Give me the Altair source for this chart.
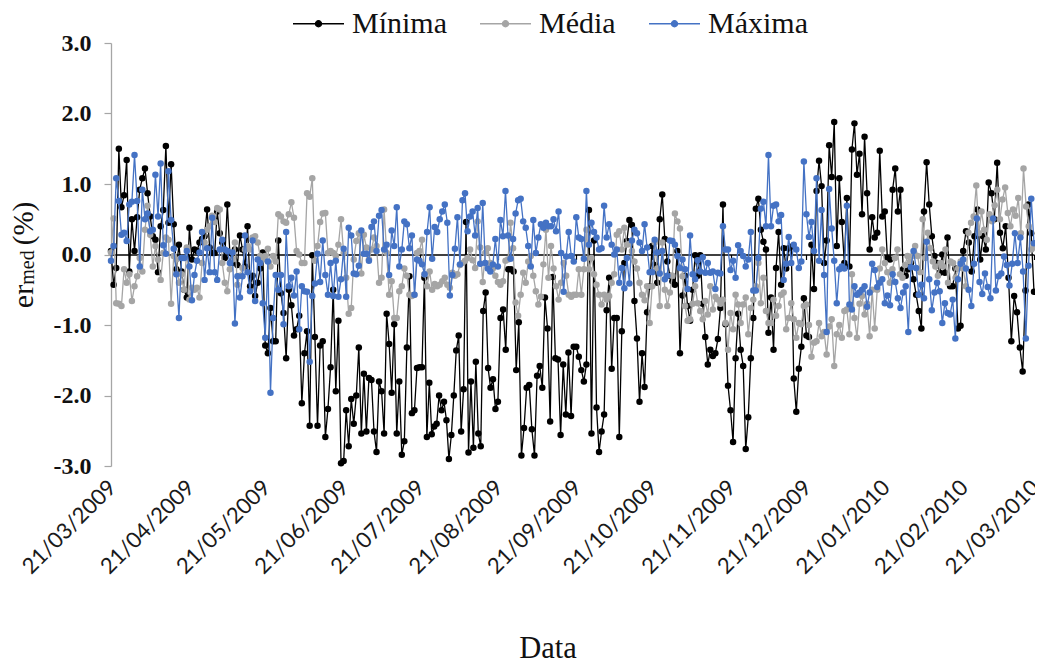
import pandas as pd
import altair as alt

tick_dates = ["2009-03-21","2009-04-21","2009-05-21","2009-06-21","2009-07-21","2009-08-21",
              "2009-09-21","2009-10-21","2009-11-21","2009-12-21","2010-01-21","2010-02-21","2010-03-21"]

minima = [
 [0.05,-0.43,-0.19,1.50,0.67,0.84,1.34,-0.24,0.50,0.05,0.53,0.92,1.08,1.22,0.87,0.54,0.26,0.21,-0.25,0.40,0.63,1.54,0.45,1.28,0.43,-0.21,0.14,-0.24,-0.50,-0.61],
 [0.38,-0.07,0.07,0.05,0.17,0.22,0.26,0.64,0.10,0.02,0.02,0.61,0.30,0.17,-0.05,0.71,0.02,-0.12,0.07,-0.15,0.27,0.07,-0.17,0.40,-0.45,-0.30,-0.59,-0.40,-0.20,0.03],
 [-1.29,-1.40,-0.76,-1.23,-1.23,0.20,-0.55,-0.83,-1.47,-0.50,-0.72,-1.15,-1.06,-0.87,-2.11,-1.40,-1.09,-2.43,-0.01,-1.17,-2.43,-1.29,-1.23,-2.59,-2.19,-1.60,-0.50,-1.94,-0.94,-2.96],
 [-2.93,-2.21,-2.72,-2.05,-2.40,-2.00,-1.32,-2.54,-1.69,-2.51,-1.75,-1.78,-2.51,-2.80,-1.80,-1.94,-2.54,-0.84,-1.27,-1.96,-0.99,-2.54,-1.80,-2.84,-2.65,-1.32,-0.31,-2.25,-2.21,-1.61],
 [-1.60,-1.60,-0.33,-2.59,-1.82,-2.55,-2.44,-2.40,-2.00,-2.21,-2.09,-2.35,-2.90,-2.56,-2.00,-1.36,-1.15,-2.51,-1.91,0.46,-2.81,-1.80,-2.74,-1.52,-2.54,-2.72,-0.80,-0.54,-1.61,-1.89,-1.77,-2.19],
 [-2.09,-0.90,-0.78,-1.35,-0.21,-0.21,-0.24,-1.64,-0.96,-2.85,-2.46,-1.89,-1.85,-2.48,-2.85,-1.72,-1.58,-1.89,-0.61,-1.05,-2.37,-0.32,-1.47,-1.49,-2.56,-1.56,-2.27,-1.39,-2.29,-1.31],
 [-1.31,-1.45,-1.64,-1.80,-1.56,0.63,-2.54,0.20,-2.17,-2.80,-2.51,-2.27,-0.79,-0.33,-1.62,-0.90,-0.90,-2.59,-1.09,-0.12,0.19,0.49,0.42,-0.66,-1.19,-2.09,-1.40,-1.88,-0.82,-0.45],
 [0.12,-0.15,-0.40,0.50,0.85,0.22,-0.10,-0.30,-0.38,-0.43,0.05,-1.40,-0.58,-0.30,-0.73,-0.94,-0.50,-0.01,-0.30,-0.01,-0.70,-1.17,-1.56,-1.35,-1.44,-1.40,-1.20,-0.76,0.71,-0.99,-1.86],
 [-2.21,-2.66,-1.47,-0.84,-1.35,-1.58,-2.76,-2.31,-1.47,-0.90,0.65,0.79,0.35,0.18,0.07,-1.11,-0.61,-1.35,-0.19,0.32,-0.43,0.09,-0.20,0.09,0.11,-1.76,-2.23,-1.62,-1.31,-0.62],
 [-1.15,-1.17,0.14,-0.49,0.90,1.33,0.97,-0.12,0.20,1.55,1.10,1.88,0.12,1.08,0.46,-0.12,0.80,-0.17,1.49,1.86,1.13,1.43,0.57,1.67,0.87,0.07,0.53,0.24,0.31,1.47,0.54],
 [0.61,-0.05,-0.07,0.92,1.22,0.61,0.92,-0.21,-0.30,-0.21,-0.12,-0.35,-0.57,-0.80,-1.05,0.61,1.31,0.71,0.26,-0.02,-0.12,-0.26,0.00,-0.26,0.24,-0.45,-0.45,-0.20,-1.05,-1.01],
 [0.05,0.33,0.17,-0.24,0.26,0.64,-0.07,0.26,0.07,1.02,0.87,0.50,1.30,0.31,0.09,0.40,-0.33,-1.23,-0.59,-0.82,-1.32,-1.66,-0.51,0.71,0.30,-0.53],
]

media = [
 [0.03,0.51,-0.69,-0.70,-0.73,-0.21,-0.40,-0.28,-0.66,-0.45,-0.31,-0.05,-0.24,0.35,0.69,0.28,-0.17,0.12,-0.07,-0.36,0.02,0.24,0.21,-0.70,-0.02,-0.07,-0.40,-0.28,-0.50,0.10],
 [-0.64,-0.47,-0.50,-0.47,-0.61,-0.12,0.17,0.35,0.40,0.55,0.46,0.66,0.64,-0.12,-0.40,-0.52,-0.21,-0.07,0.17,-0.43,-0.30,-0.19,0.07,0.12,0.07,0.24,0.26,0.17,-0.02,-0.07],
 [-0.02,0.08,-0.17,-0.02,-0.10,0.57,0.54,0.47,0.45,0.57,0.74,0.52,0.05,0.00,-0.12,-0.12,0.87,0.82,1.08,-0.09,0.12,0.46,0.58,0.59,0.02,0.05,0.02,-0.02,0.14,0.50],
 [0.02,-0.33,-0.84,-0.76,-0.07,0.19,0.30,-0.27,0.28,0.10,-0.07,0.07,0.24,0.12,-0.40,-0.33,0.64,0.02,-0.57,-0.38,-0.90,-0.90,-0.52,-0.45,-0.20,-0.30,-0.57,-0.59,-0.57,0.02],
 [0.05,0.21,-0.28,-0.45,-0.24,-0.50,-0.42,-0.45,-0.43,-0.38,-0.33,-0.43,-0.47,-0.26,-0.30,-0.28,-0.15,-0.12,-0.09,-0.05,0.07,-0.08,-0.19,0.47,0.10,-0.39,0.02,0.09,-0.12,-0.20,-0.30],
 [-0.39,-0.43,-0.38,-0.09,-0.07,0.45,0.09,-0.68,-0.87,-0.57,-0.26,-0.40,-0.10,-0.02,-0.30,-0.52,-0.71,-0.60,-0.14,0.35,-0.33,0.12,-0.20,-0.45,-0.64,-0.40,-0.12,-0.30,-0.57,-0.60,-0.57],
 [-0.57,-0.21,-0.57,-0.21,0.35,-0.21,-0.05,-0.28,-0.43,-0.57,-0.71,-0.57,-0.64,-0.59,-0.40,-0.28,0.28,0.33,0.07,0.38,0.14,0.15,0.05,-0.10,-0.20,-0.40,-0.57,-0.65,-0.45,-0.97],
 [-0.45,0.17,-0.20,-0.73,0.17,-0.50,-0.73,-0.54,-0.30,0.58,0.47,0.37,-0.31,-0.73,-0.94,-0.92,-0.70,-0.45,-0.69,-0.80,-0.92,-0.66,-0.85,-0.45,-0.78,-0.60,-0.64,-0.70,-0.64,-0.97,-1.35],
 [-0.83,-1.06,-0.57,-0.71,-0.97,-0.71,-0.61,-1.13,-0.76,-0.64,-0.45,-0.12,-0.69,-0.33,-0.80,-0.97,-0.97,-0.64,-0.87,-0.73,-0.57,-0.54,-1.06,-0.90,-0.69,-0.92,-1.18,-0.97,-0.99,-0.73],
 [-0.71,-1.00,-1.45,-1.25,-1.23,-0.97,-1.16,-1.10,-1.42,-1.02,-0.92,-1.58,-1.13,-1.00,-1.18,-0.80,-0.78,-1.13,-0.28,-0.90,-1.18,-0.70,-0.59,-0.85,-0.70,-1.16,-0.50,-1.05,-0.50,-0.20,0.07],
 [-0.12,-0.25,-0.40,-0.21,-0.05,0.07,-0.28,-0.33,-0.15,-0.02,-0.10,-0.02,0.12,-0.02,-0.25,0.50,-0.05,0.31,0.09,-0.10,-0.17,-0.30,-0.12,-0.17,0.07,-0.40,-0.10,-0.12,-0.33,-0.20,-0.10],
 [-0.20,-0.45,0.31,0.45,0.54,0.98,0.30,0.61,0.35,0.21,0.57,0.47,0.70,0.92,0.50,0.78,0.95,0.59,0.40,0.64,0.55,0.80,0.30,1.22,0.68,0.40,0.07,0.10],
]

maxima = [
 [-0.09,0.12,1.08,0.76,0.28,0.31,0.19,0.71,0.75,1.41,0.76,-0.17,0.92,0.50,0.58,0.33,0.35,1.13,0.54,1.29,0.13,0.01,1.18,0.49,0.08,-0.28,-0.90,-0.05,-0.05,0.05],
 [-0.17,-0.65,-0.29,-0.09,0.03,0.32,-0.36,0.09,-0.25,0.52,-0.25,-0.36,0.07,0.21,0.07,0.05,-0.12,0.03,-0.98,-0.31,-0.61,-0.31,0.27,-0.25,-0.52,0.20,-0.66,-0.07,-0.12,-0.69],
 [-1.18,-0.10,-1.96,-0.90,-0.29,-0.50,-0.29,-0.99,0.32,-0.45,-0.33,-0.58,-0.24,-1.06,-0.45,-0.52,-0.53,-1.52,-0.59,-0.41,0.01,-0.39,0.20,-0.29,-0.57,-0.12,-0.59,-0.09,-0.60,-0.35],
 [0.08,-0.60,0.38,0.27,-0.27,-0.28,-0.16,0.34,0.01,0.01,-0.09,0.39,0.47,0.05,0.55,0.63,0.07,0.14,-0.29,0.34,0.12,0.67,-0.17,0.07,0.47,0.43,0.09,0.27,-0.57,-0.07],
 [-0.09,-0.14,-0.28,0.32,0.67,-0.06,0.39,0.32,0.50,0.61,0.71,0.45,-0.58,-0.29,0.08,0.53,-0.14,0.77,0.87,0.33,0.54,0.61,0.27,0.66,-0.13,0.73,-0.12,-0.20,-0.24,-0.14,0.22],
 [-0.17,0.49,0.26,0.90,0.27,-0.06,0.22,0.58,0.77,0.79,0.47,0.38,0.12,-0.17,0.49,0.02,0.24,0.43,0.38,0.45,0.40,0.40,0.50,0.33,0.61,0.02,-0.53,-0.03,0.32,-0.02,-0.10],
 [0.53,0.24,0.22,-0.06,0.90,0.14,0.45,0.32,0.24,0.07,0.09,0.69,0.24,0.43,0.14,0.00,0.07,-0.40,-0.19,-0.48,-0.05,-0.41,0.20,0.35,0.30,0.17,0.05,0.43,0.10,-0.25],
 [-0.25,0.21,0.03,-0.27,0.05,-0.35,-0.30,0.20,0.19,0.14,-0.02,-0.19,-0.07,-0.21,-0.49,0.27,-0.28,-0.35,-0.08,-0.24,-0.04,-0.26,-0.12,-0.26,-0.24,-0.49,-0.26,-0.27,0.40,0.07,0.07],
 [-0.22,-0.09,-0.33,0.13,0.05,-0.02,-0.17,-0.07,0.32,-0.51,-0.51,-0.05,0.65,0.75,0.40,1.41,0.40,0.69,0.71,0.47,0.56,-0.36,-0.13,0.25,-0.12,0.14,0.07,-0.19,-0.10,1.32],
 [0.57,0.25,0.46,0.05,1.08,-0.09,0.63,-0.29,-1.10,0.93,0.37,-0.09,-0.69,-0.21,-0.17,-0.20,0.69,-0.71,-0.78,-0.45,-0.57,-0.54,-0.50,-0.45,-0.74,-0.54,-0.13,-0.22,-0.46,-0.40,-0.35],
 [-0.69,-0.58,-0.72,-0.28,-0.39,-0.62,-0.76,-0.54,-0.45,-1.10,-0.18,0.05,-0.19,-0.57,-0.43,-0.62,0.18,-0.35,-0.79,-0.54,-0.40,-0.52,-0.97,-0.69,-0.83,-0.85,-0.64,-1.19,-0.35,-0.13],
 [-0.07,-0.20,-0.50,-0.73,-0.13,0.51,-0.39,-0.56,-0.27,-0.46,-0.62,0.51,-0.51,-0.31,-0.27,-0.03,-0.15,-0.44,-0.13,0.30,-0.12,0.24,-0.24,-1.19,-0.16,0.79,0.16],
]

series_names = ["Mínima", "Média", "Máxima"]
series_colors = ["#000000", "#A5A5A5", "#4472C4"]


def rows(name, segments):
    out = []
    for i, seg in enumerate(segments):
        a = pd.Timestamp(tick_dates[i])
        b = pd.Timestamp(tick_dates[i + 1])
        last = i == len(segments) - 1
        step = (b - a) / (len(seg) - 1 if last else len(seg))
        for k, v in enumerate(seg):
            out.append({"date": (a + k * step).strftime("%Y-%m-%dT%H:%M:%S"), "value": v, "serie": name})
    return out


key_path = "M-1,0L-0.12,0M0.12,0L1,0M-0.12,0A0.12,0.12 0 1,1 0.12,0A0.12,0.12 0 1,1 -0.12,0Z"

color = alt.Color(
    "serie:N",
    scale=alt.Scale(domain=series_names, range=series_colors),
    sort=series_names,
    legend=alt.Legend(
        title=None, orient="none", direction="horizontal", columns=3,
        legendX=181, legendY=-46, labelFont="Liberation Serif", labelFontSize=30,
        labelColor="#111111", columnPadding=30, symbolSize=2601, symbolStrokeWidth=1.3,
        symbolType=key_path, labelOffset=7, padding=0,
    ),
)

x = alt.X(
    "date:T",
    title=None,
    scale=alt.Scale(domain=[tick_dates[0] + "T00:00:00", tick_dates[-1] + "T00:00:00"]),
    axis=alt.Axis(
        values=[d + "T00:00:00" for d in tick_dates],
        format="%d/%m/%Y", labelAngle=-45, labelAlign="right", labelBaseline="middle",
        labelFont="Lato", labelFontSize=22, labelColor="#1a1a1a", labelOverlap=False,
        labelBound=False, labelFlush=False, labelOffset=1,
        domainColor="#000000", domainWidth=1.5, tickColor="#000000", tickSize=5, tickWidth=1.2,
        offset=-211.5, labelPadding=224, grid=False,
    ),
)
y = alt.Y(
    "value:Q",
    title=None,
    scale=alt.Scale(domain=[-3, 3], nice=False),
    axis=alt.Axis(
        values=[-3, -2, -1, 0, 1, 2, 3],
        labelExpr="replace(format(datum.value,'.1f'),'−','-')",
        labelFont="Liberation Serif", labelFontSize=24, labelFontWeight="bold", labelColor="#111111",
        domainColor="#A6A6A6", domainWidth=1.3, tickColor="#A6A6A6", tickSize=7, tickWidth=1.2,
        labelPadding=13, grid=False,
    ),
)

layers = []
for name, segs in zip(series_names, [minima, media, maxima]):
    layers.append(
        alt.Chart(alt.Data(values=rows(name, segs)))
        .mark_line(strokeWidth=1.3, point=alt.OverlayMarkDef(size=42, filled=True, opacity=1))
        .encode(x=x, y=y, color=color)
    )


def label(text, size, xx, yy, angle=270, align="center"):
    return alt.Chart(alt.Data(values=[{}])).mark_text(
        text=text, font="Liberation Serif", fontSize=size, angle=angle, align=align,
        baseline="alphabetic", color="#111111",
    ).encode(x=alt.value(xx), y=alt.value(yy))


chart = alt.layer(
    *layers,
    label("er", 30, -78, 253.5),
    label("med", 20, -77, 224.5),
    label("(%)", 29, -78, 180.5),
    label("Data", 30.5, 437, 615, angle=0),
).properties(
    width=923, height=423,
    autosize=alt.AutoSizeParams(type="none"),
    padding={"left": 103, "top": 35, "right": 1, "bottom": 197},
).configure_view(stroke=None)

chart.save("out.html", embed_options={"renderer": "svg", "actions": False})
